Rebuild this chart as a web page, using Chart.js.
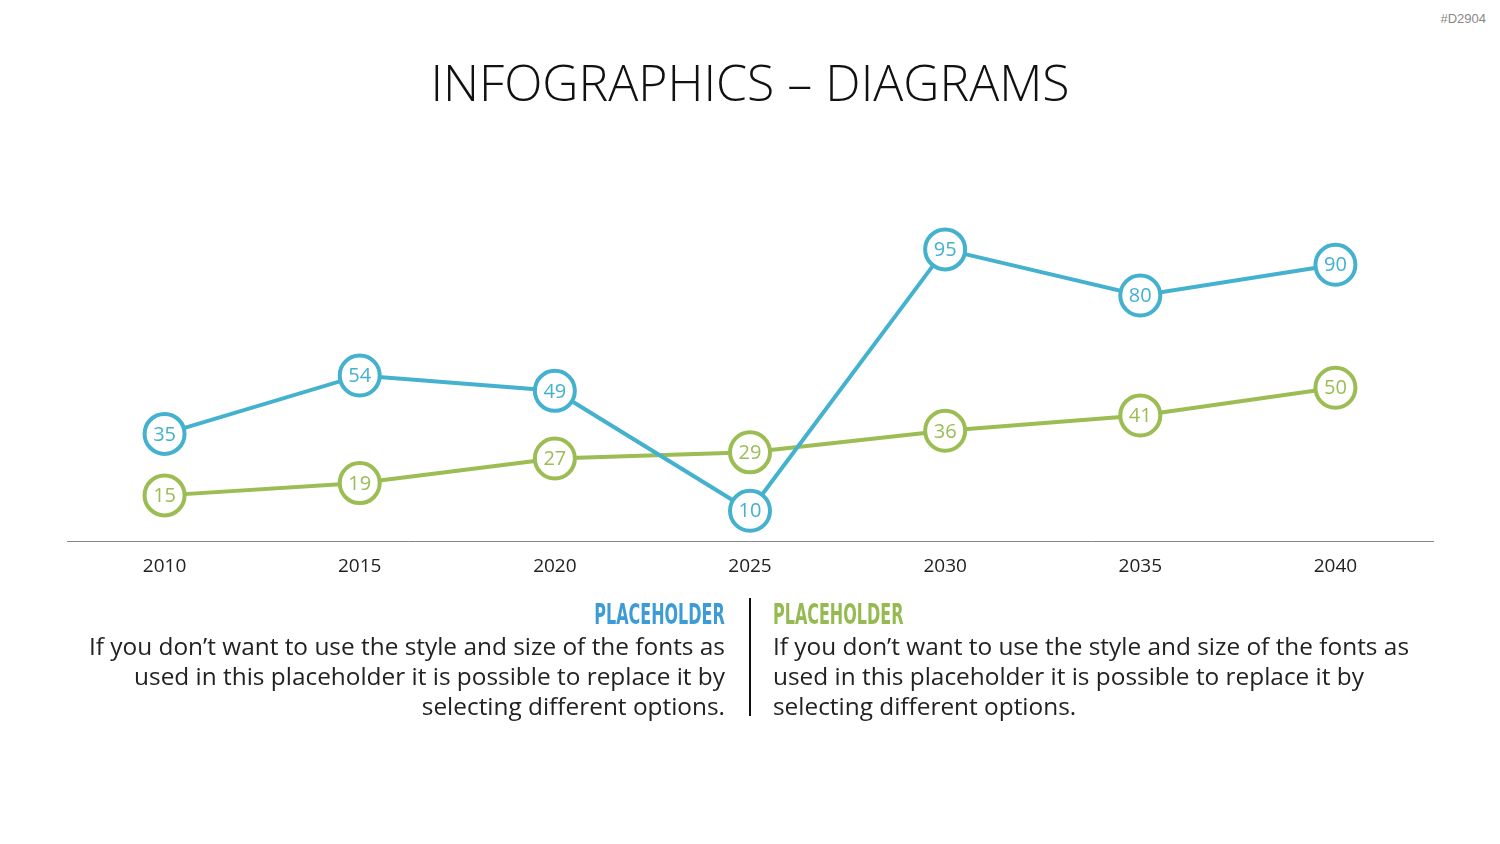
<!DOCTYPE html>
<html><head><meta charset="utf-8">
<script src="https://cdn.jsdelivr.net/npm/chart.js@4"></script>
<style>
html,body{margin:0;padding:0;background:#fff;width:1500px;height:844px;overflow:hidden;font-family:"Open Sans",sans-serif;}
#wrap{position:absolute;left:0;top:0;width:1500px;height:600px;}
#title{position:absolute;left:0;width:1500px;top:48px;text-align:center;font-family:"Open Sans";font-weight:300;font-size:50px;color:#111;white-space:nowrap;}
#code{position:absolute;right:14px;top:11px;font-family:"Liberation Sans";font-size:13px;color:#888;}
.h{position:absolute;top:598px;font-family:"DejaVu Sans Condensed","DejaVu Sans";font-weight:bold;font-size:25px;white-space:nowrap;}
.p{position:absolute;top:631px;font-family:"Open Sans";font-size:24.4px;line-height:30px;color:#222;white-space:nowrap;}
#divider{position:absolute;left:749px;top:598px;width:2px;height:118px;background:#111;}
</style></head><body>
<div id="code">#D2904</div>
<div id="title">INFOGRAPHICS – DIAGRAMS</div>
<div id="wrap"><canvas id="c" width="1500" height="600"></canvas></div>
<div class="h" style="right:775px;color:#3D9BD8;transform:scale(0.71,1.12);transform-origin:right top;">PLACEHOLDER</div>
<div class="h" style="left:773px;color:#94BA50;transform:scale(0.71,1.12);transform-origin:left top;">PLACEHOLDER</div>
<div id="divider"></div>
<div class="p" style="right:775px;text-align:right;">If you don’t want to use the style and size of the fonts as<br>used in this placeholder it is possible to replace it by<br>selecting different options.</div>
<div class="p" style="left:773px;text-align:left;">If you don’t want to use the style and size of the fonts as<br>used in this placeholder it is possible to replace it by<br>selecting different options.</div>
<script>
const years = ["2010","2015","2020","2025","2030","2035","2040"];
const seriesBlue = [35,54,49,10,95,80,90];
const seriesGreen = [15,19,27,29,36,41,50];
const blue = "#44B1CE";
const green = "#9BBD53";

const labelPlugin = {
  id:"pointLabels",
  afterDatasetsDraw(chart){
    const ctx = chart.ctx;
    chart.data.datasets.forEach((ds,i)=>{
      const meta = chart.getDatasetMeta(i);
      meta.data.forEach((pt,j)=>{
        ctx.save();
        ctx.fillStyle = ds.borderColor;
        ctx.font = "20px 'Open Sans'";
        ctx.textAlign="center"; ctx.textBaseline="middle";
        ctx.fillText(String(ds.data[j]), pt.x, pt.y+1);
        ctx.restore();
      });
    });
  }
};

new Chart(document.getElementById("c"),{
  type:"line",
  data:{labels:years,datasets:[
    {data:seriesBlue,borderColor:blue,backgroundColor:"#fff",borderWidth:4,pointRadius:20,pointBorderWidth:4,pointBackgroundColor:"#fff",pointBorderColor:blue,tension:0,clip:false},
    {data:seriesGreen,borderColor:green,backgroundColor:"#fff",borderWidth:4,pointRadius:20,pointBorderWidth:4,pointBackgroundColor:"#fff",pointBorderColor:green,tension:0,clip:false}
  ]},
  options:{
    responsive:false,animation:false,
    layout:{padding:{left:67,right:67,top:234,bottom:0}},
    plugins:{legend:{display:false},tooltip:{enabled:false}},
    scales:{
      x:{offset:true,grid:{display:false,drawTicks:false},border:{display:true,color:"#888",width:1},
         ticks:{color:"#222",font:{family:"Open Sans",size:19},padding:14},
         afterFit(s){s.height=600-541.5;}},
      y:{display:false,min:0,max:100}
    }
  },
  plugins:[labelPlugin]
});
</script>
</body></html>
